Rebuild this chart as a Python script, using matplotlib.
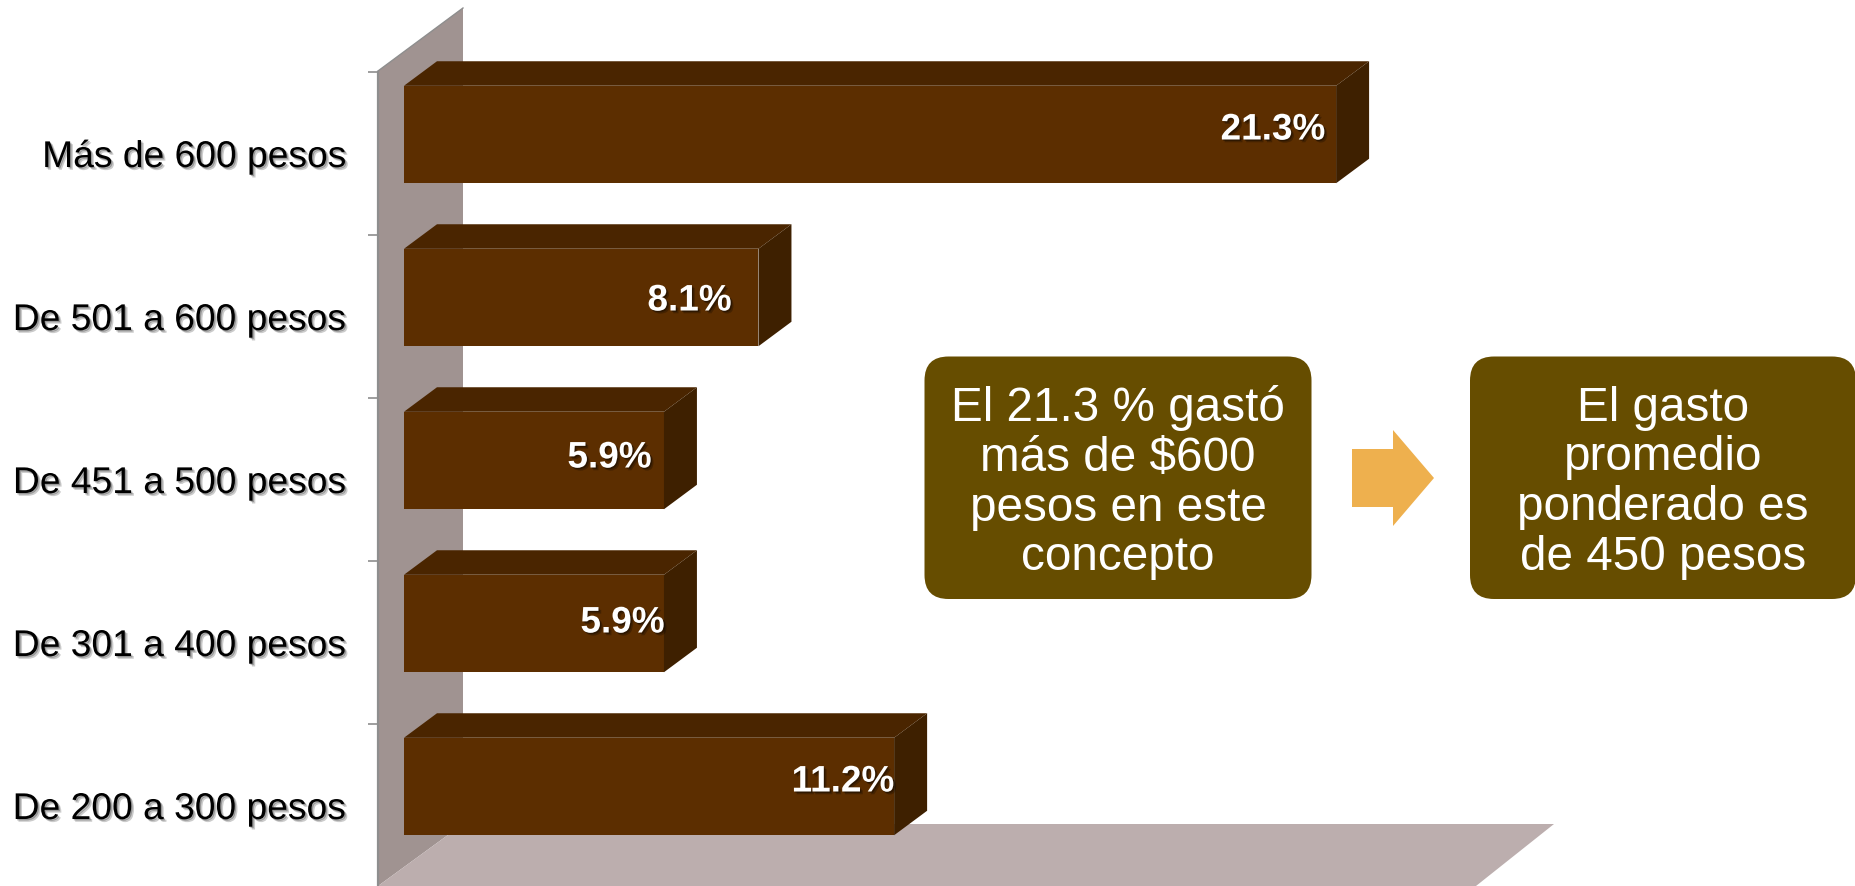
import matplotlib
matplotlib.use("Agg")
import matplotlib.pyplot as plt
import matplotlib.patheffects as pe
from matplotlib.patches import Polygon, FancyBboxPatch

plt.rcParams['font.family'] = ['Liberation Sans', 'DejaVu Sans']

categories = ["De 200 a 300 pesos", "De 301 a 400 pesos", "De 451 a 500 pesos",
              "De 501 a 600 pesos", "Más de 600 pesos"]
values = [11.2, 5.94, 5.94, 8.1, 21.3]
box_left = "El 21.3 % gastó\nmás de $600\npesos en este\nconcepto"
box_right = "El gasto\npromedio\nponderado es\nde 450 pesos"

W, H = 1856, 887
PX_PER_VAL = 43.76
PX_PER_CAT = 163.0
BAR_X0 = 404
AX_X0 = 378
CAT0_Y = 806.5

FRONT = "#5C2E00"
TOP = "#4A2500"
SIDE = "#3E2000"
WALL = "#A09391"
FLOOR = "#BCAEAE"
BOX = "#664D00"
ARROW = "#EEB04E"
GREY = "#8E8E8E"

fig = plt.figure(figsize=(W / 100, H / 100), dpi=100, facecolor="white")


def fx(x, y):
    return (x / W, 1 - y / H)


def fig_poly(pts, color, z, **kw):
    fig.add_artist(Polygon([fx(*p) for p in pts], closed=True, transform=fig.transFigure,
                           facecolor=color, zorder=z, **kw))


def soft_shadow(color, a1, a2):
    return [pe.SimplePatchShadow(offset=(2, -2), shadow_rgbFace=color, alpha=a2),
            pe.SimplePatchShadow(offset=(1, -1), shadow_rgbFace=color, alpha=a1),
            pe.Normal()]


# wall and floor of the 3D frame
fig_poly([(378, 72), (463, 9), (463, 825), (378, 887)], WALL, -3, edgecolor="none")
fig_poly([(378, 887), (463, 825), (1554, 825), (1476, 887)], FLOOR, -2, edgecolor="none")
fig.add_artist(plt.Line2D([378 / W, 463 / W], [1 - 72 / H, 1 - 9 / H], color=GREY, lw=1.0,
                          transform=fig.transFigure, zorder=-1))

ax = fig.add_axes([AX_X0 / W, 0, 1 - AX_X0 / W, 1], facecolor="none")
ax.set_xlim((AX_X0 - BAR_X0) / PX_PER_VAL, (W - BAR_X0) / PX_PER_VAL)
ax.set_ylim((CAT0_Y - H) / PX_PER_CAT, CAT0_Y / PX_PER_CAT)
ax.xaxis.set_visible(False)
for s in ("top", "right", "bottom"):
    ax.spines[s].set_visible(False)
ax.spines["left"].set_color(GREY)
ax.spines["left"].set_linewidth(1.6)
ax.spines["left"].set_bounds((CAT0_Y - H) / PX_PER_CAT, len(values) - 0.5)

pos = list(range(len(values)))
ax.set_yticks([p + 0.5 for p in pos])
ax.set_yticklabels([])
ax.set_yticks(pos, minor=True)
ax.set_yticklabels(categories, minor=True, fontsize=26.8, color="black",
                   path_effects=soft_shadow("#333333", 0.35, 0.25))
ax.tick_params(axis="y", which="major", length=7.2, width=1.2, color=GREY)
ax.tick_params(axis="y", which="minor", length=0, pad=22.3)

# 3D bars
BAR_SHIFT = 19 / PX_PER_CAT
BAR_H = 97.5 / PX_PER_CAT
DX = 33 / PX_PER_VAL
DY = 24.5 / PX_PER_CAT
ys = [p + BAR_SHIFT for p in pos]
ax.barh(ys, values, height=BAR_H, color=FRONT, zorder=3)
for y, v in zip(ys, values):
    t, b = y + BAR_H / 2, y - BAR_H / 2
    ax.add_patch(Polygon([(0, t), (DX, t + DY), (v + DX, t + DY), (v, t)], facecolor=TOP,
                         edgecolor="none", zorder=3))
    ax.add_patch(Polygon([(v, t), (v + DX, t + DY), (v + DX, b + DY), (v, b)], facecolor=SIDE,
                         edgecolor="none", zorder=3))

# value labels, offset in pixels from the bar end / bar centre (down is positive)
label_dx = [0, 0.5, -12.5, -27, -11]
label_dy = [-4.5, -0.5, -2.5, 3.5, -4.5]
for y, v, ox, oy in zip(ys, values, label_dx, label_dy):
    ax.annotate(f"{v:.1f}%", xy=(v, y), xytext=(ox * 0.72, -oy * 0.72), textcoords="offset points",
                ha="right", va="center", fontsize=26.6, fontweight="bold", color="white",
                path_effects=soft_shadow("black", 0.35, 0.25), zorder=5)


# call-out boxes
def add_box(x0, x1, txt, cx):
    y0, y1, r = 357.5, 600, 24
    fig.add_artist(FancyBboxPatch((x0 + r, H - y1 + r), x1 - x0 - 2 * r, y1 - y0 - 2 * r,
                                  boxstyle=f"round,pad={r},rounding_size={r}",
                                  transform=None, facecolor=BOX, edgecolor="none", zorder=4))
    fig.text(cx / W, 1 - (y0 + y1) / 2 / H - 4 / H, txt, color="white", fontsize=34.3, ha="center", va="center",
             linespacing=1.135, multialignment="center", zorder=5)


add_box(924.5, 1311.5, box_left, 1118)
add_box(1470, 1856, box_right, 1663)

fig_poly([(1352, 450), (1393, 450), (1393, 431), (1434, 479), (1393, 527), (1393, 508), (1352, 508)],
         ARROW, 4, edgecolor="none")

fig.savefig("out.png", dpi=100)
